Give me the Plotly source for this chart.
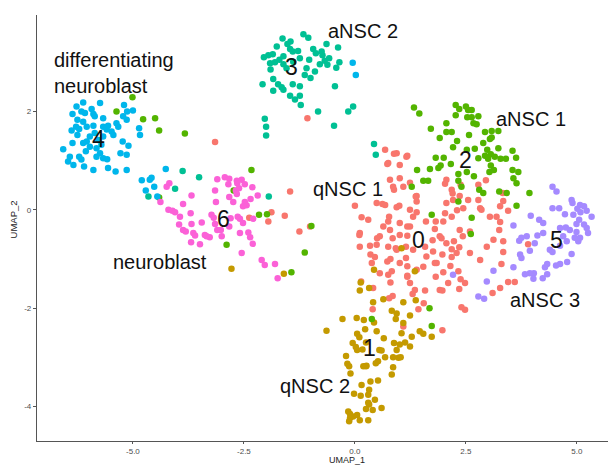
import plotly.graph_objects as go

# ---------------- data (UMAP coordinates per cluster) ----------------
c0 = [(1.31,-0.14),(1.39,-0.05),(1.60,-0.24),(1.24,-0.34),(1.01,-0.51),(0.56,-0.54),(0.49,-0.71),(0.75,-0.75),
      (0.34,-0.73),(0.35,-0.91),(0.73,-1.05),(1.01,-1.08),(1.15,-0.98),(1.39,-1.22),(1.80,-1.08),(1.99,-1.27),
      (2.10,-1.49),(2.29,-0.88),(2.59,-0.88),(2.82,-1.02),(2.97,-0.75),(3.12,-0.61),(3.25,-0.41),(3.19,-0.14),
      (3.04,-0.14),(2.82,0.03),(2.78,0.20),(2.55,0.20),(2.36,0.28),(2.21,0.20),(2.44,0.03),(2.18,-0.14),
      (1.99,-0.24),(1.91,-0.54),(2.36,-0.41),(2.06,-0.68),(1.58,-0.75),(1.31,-0.81),(1.61,-0.95),(0.94,-0.81),
      (0.11,-0.47),(0.11,-0.75),(0.38,-1.08),(0.56,-1.29),(0.75,-1.32),(0.14,-1.46),(1.24,-1.49),(1.35,-1.63),
      (1.91,-1.63),(2.35,-1.61),(2.48,-1.49),(0.68,1.22),(0.94,1.15),(0.75,0.95),(1.01,0.91),(1.16,1.08),
      (0.79,0.61),(1.01,0.64),(0.86,0.47),(1.09,0.47),(1.39,0.28),(1.39,0.17),(0.00,0.08),(0.49,0.14),
      (0.68,0.10),(0.94,0.05),(0.15,-0.15),(0.30,-0.20),(0.75,-0.24),(0.64,-0.34),(0.79,-0.41),(2.06,0.14),
      (2.18,0.41),(2.38,0.51),(2.06,0.61),(2.78,0.51),(2.95,0.60),(2.85,0.00),(3.27,0.07),
      (0.10,-0.51),(0.50,-0.58),(0.85,-0.58),(1.18,-0.53),(0.92,-0.78),(1.15,-0.75),(0.45,-0.96),(0.80,-1.00),
      (1.18,-1.15),(1.54,-1.16),(0.83,-1.25),(1.18,-1.34),(0.80,-1.48),(1.00,0.08),(1.24,0.00),(1.82,-0.24),
      (2.03,-0.07),(2.03,0.53),(2.20,0.33),(2.30,-0.01),(0.77,-0.14),(1.01,-0.27),(1.18,-0.34),(1.80,-0.39),
      (1.75,-0.62),(1.95,-0.58),(2.23,-0.64),(2.43,-0.54),(2.59,-0.44),(2.35,-0.76),(2.18,-0.80),(1.76,-0.85),
      (1.97,-0.91),(2.18,-0.96),(1.84,-1.08),(2.15,-1.14),(1.82,-1.36),(2.33,-1.25),(2.38,-1.41),(0.62,0.12),
      (0.88,0.41),(1.24,0.55),(1.37,0.27),(0.73,0.93),(0.88,1.14),(1.18,1.10),
      (3.33,0.34),(3.34,0.18),(3.45,-0.02),(3.27,-0.25),(3.34,-0.64),(3.90,-0.70),(3.34,-0.86),(3.30,-1.10),
      (3.60,-1.47),(3.45,-1.47),(3.27,-1.59),(3.10,-1.69),
      (1.18,-1.36),(0.41,-1.59),(0.85,-1.75),(0.77,-1.80),(1.30,-1.71),(1.58,-1.64),(1.97,-1.64),(1.55,-1.90),
      (1.43,-2.02),(0.40,-2.02),(1.09,-2.37),(1.97,-2.45),(2.40,-1.98),(2.48,-2.03),
      (-3.15,1.38),(-1.07,1.86),(-1.46,0.37),(-1.88,-0.05),(-1.95,-0.24),(-1.58,-0.12),(-2.38,-0.16),
      (-1.25,-0.44),(-1.01,-0.34)]

c1 = [(-1.60,-1.30),(0.13,-1.48),(0.11,-1.64),(0.32,-1.59),(0.43,-1.22),(1.35,-1.25),(0.64,-1.82),(0.41,-1.88),
      (1.09,-1.88),(1.37,-1.84),(0.83,-2.05),(0.94,-2.11),(1.24,-2.15),(0.92,-2.22),(1.09,-2.30),(0.20,-2.24),
      (0.43,-2.29),(0.04,-2.20),(-0.28,-2.22),(-0.64,-2.46),(0.23,-2.43),(0.49,-2.47),(0.05,-2.52),(0.10,-2.59),
      (-0.05,-2.71),(0.05,-2.85),(0.25,-2.70),(0.55,-2.85),(0.60,-2.86),(0.65,-2.61),(0.88,-2.71),(1.01,-2.74),
      (1.05,-2.51),(1.28,-2.58),(1.24,-2.78),(1.46,-2.47),(1.54,-2.52),(1.73,-2.58),(1.13,-2.70),(0.68,-3.00),
      (0.52,-3.08),(0.98,-3.01),(1.03,-3.00),(0.86,-3.20),(0.83,-3.35),(0.47,-3.12),(0.25,-3.18),(0.19,-3.18),
      (-0.20,-2.97),(-0.17,-3.13),(-0.13,-3.18),(-0.10,-3.33),(0.15,-3.56),(0.35,-3.49),(0.52,-3.47),(-0.02,-3.74),
      (0.13,-3.78),(0.30,-3.76),(0.32,-3.66),(0.45,-3.86),(0.30,-3.92),(0.32,-3.96),(0.25,-4.05),(0.40,-4.07),
      (0.60,-4.03),(-0.15,-4.10),(-0.11,-4.15),(-0.04,-4.20),(0.05,-4.17),(-0.13,-4.30),(-0.11,-4.23),(0.11,-4.28),
      (0.30,-4.28),(0.17,-2.84),(0.02,-2.79),(0.26,-3.17),(0.86,-3.00),(0.94,-2.85),
      (1.05,-0.78),(-2.78,-1.20)]

c2 = [(1.33,2.08),(1.45,1.96),(2.27,2.13),(2.35,2.05),(2.50,2.10),(2.55,2.03),(2.63,2.03),(2.27,1.92),
      (2.53,1.88),(2.63,1.88),(2.78,1.90),(2.67,1.76),(2.74,1.74),(2.06,1.76),(1.71,1.65),(2.06,1.58),
      (2.18,1.58),(1.91,1.46),(2.30,1.40),(2.57,1.52),(2.93,1.58),(3.08,1.60),(3.23,1.60),(3.04,1.44),
      (2.89,1.36),(3.08,1.47),(2.21,1.27),(2.52,1.22),(2.70,1.24),(2.98,1.22),(3.06,1.13),(3.23,1.25),
      (3.55,1.20),(1.82,1.06),(2.00,1.06),(2.16,0.93),(1.93,0.90),(1.88,0.85),(1.69,0.83),(1.40,0.81),
      (2.78,1.05),(2.93,1.10),(3.00,1.04),(3.15,1.08),(3.28,1.04),(3.40,1.04),(3.63,1.06),(3.06,0.90),
      (3.13,0.81),(3.03,0.77),(2.52,0.77),(2.33,0.73),(2.68,0.68),(3.55,0.81),(3.68,0.77),(3.57,0.64),
      (3.64,0.54),(2.33,0.59),(2.40,0.47),(1.54,0.59),(1.65,0.59),(1.28,0.47),(2.80,0.41),(2.89,0.34),
      (3.25,0.37),(3.42,0.34),(3.93,0.34),(2.33,0.17),
      (-5.01,2.29),(-5.37,2.00),(-4.77,1.84),(-4.50,1.86),(-4.41,1.61),(-3.83,1.55),(-2.33,0.81),(-4.41,0.25),
      (-2.73,0.39),(-2.16,-0.10),(-1.98,-0.09),(-2.89,-0.71),(-1.13,-0.87),(-1.43,-1.27),(3.64,0.08),
      (2.63,-0.16),(2.61,-0.49),(1.73,-0.10),(-0.98,-0.33),(1.68,-2.00),(0.38,-2.22),(1.73,-2.36)]

c3 = [(-1.63,3.48),(-1.45,3.42),(-1.16,3.57),(-1.05,3.50),(-1.52,3.37),(-1.76,3.32),(-1.85,3.16),(-2.05,3.10),
      (-1.95,3.14),(-1.61,3.12),(-1.46,3.27),(-1.40,3.22),(-1.28,3.23),(-0.94,3.27),(-0.88,3.18),(-0.64,3.37),
      (-0.38,3.30),(-0.73,3.14),(-0.58,3.08),(-0.68,3.03),(-1.03,3.05),(-1.24,3.08),(-1.80,3.00),(-1.90,2.85),
      (-1.61,2.96),(-1.09,2.88),(-0.90,2.81),(-0.79,2.96),(-0.62,2.95),(-0.35,3.00),(-0.42,2.89),(-1.00,2.68),
      (-1.84,2.66),(-2.08,2.55),(-1.73,2.55),(-1.65,2.49),(-1.84,2.42),(-1.61,2.44),(-1.40,2.55),(-1.24,2.51),
      (-1.46,2.32),(-1.24,2.32),(-1.35,2.24),(-1.22,2.13),(-0.45,2.51),(-0.83,2.00),(-0.15,2.00),(-0.04,2.10),
      (-2.03,1.85),(-2.00,1.69),(-2.00,1.51),(-0.47,1.71),(-1.70,3.05),(-1.54,2.88),(-1.91,2.98),(-1.39,3.01),
      (-0.75,3.22),(-1.13,2.74),
      (0.43,1.34),(0.47,1.12),(-3.88,0.79),(-4.05,0.43),(-4.65,0.27),(-3.51,0.66),(-1.94,0.27)]

c4 = [(-6.12,2.18),(-6.27,2.10),(-6.36,1.95),(-6.16,2.00),(-6.08,1.97),(-5.93,2.05),(-5.89,1.95),(-5.74,2.17),
      (-5.86,1.90),(-5.67,1.86),(-6.25,1.83),(-6.12,1.79),(-6.28,1.69),(-6.21,1.64),(-6.38,1.61),(-6.04,1.69),
      (-5.89,1.71),(-5.67,1.69),(-5.56,1.71),(-5.48,1.59),(-5.37,1.76),(-5.33,1.69),(-5.22,1.90),(-5.14,1.83),
      (-5.20,2.13),(-5.00,2.02),(-5.13,2.00),(-5.97,1.49),(-5.86,1.56),(-6.04,1.39),(-6.12,1.36),(-5.67,1.49),
      (-5.59,1.63),(-5.44,1.52),(-5.23,1.39),(-5.10,1.30),(-6.57,1.23),(-6.36,1.36),(-6.06,1.19),(-5.82,1.25),
      (-5.74,1.15),(-5.67,1.05),(-5.58,1.03),(-6.21,1.08),(-6.16,1.02),(-6.42,1.08),(-6.46,0.98),(-6.34,0.91),
      (-6.10,0.88),(-5.89,0.81),(-5.82,1.08),(-5.56,0.85),(-5.39,0.78),(-5.14,0.81),(-5.14,1.12),(-5.28,1.15),
      (-5.71,1.32),(-5.97,1.28),(-5.78,1.42),(-6.25,1.52),(-4.86,1.66),(-4.84,1.52),
      (-4.26,0.83),(-4.80,0.60),(-4.62,0.61),(-4.71,0.39),(-4.52,0.47),(-4.45,0.27),(-4.58,0.65),
      (-0.05,2.99),(0.02,2.74)]

c5 = [(4.45,0.47),(4.54,0.37),(4.88,0.20),(4.90,0.14),(5.07,0.10),(5.16,0.07),(5.22,-0.02),(5.33,-0.14),
      (5.01,0.02),(5.08,-0.05),(4.92,-0.10),(4.45,0.03),(4.60,0.03),(4.73,-0.09),(3.96,-0.12),(4.15,-0.20),
      (4.24,-0.27),(3.57,-0.32),(4.62,-0.37),(4.75,-0.36),(4.84,-0.41),(4.99,-0.29),(5.05,-0.20),(5.16,-0.30),
      (5.22,-0.37),(5.25,-0.47),(4.99,-0.45),(5.07,-0.57),(4.95,-0.57),(5.03,-0.64),(4.69,-0.54),(4.77,-0.64),
      (4.24,-0.47),(4.11,-0.52),(4.05,-0.68),(3.87,-0.54),(3.75,-0.57),(3.70,-0.63),(3.94,-0.83),(3.72,-0.91),
      (3.75,-0.98),(4.39,-0.81),(4.45,-0.86),(4.62,-0.73),(4.88,-0.90),(4.78,-1.06),(4.62,-1.10),(4.53,-1.13),
      (4.33,-1.10),(4.28,-1.17),(4.33,-1.31),(4.03,-1.29),(3.94,-1.29),(3.83,-1.31),(4.02,-1.40),(4.23,-1.39),
      (3.57,-1.17),(3.12,-1.24),(2.97,-1.46),(2.78,-1.76),(2.91,-1.81),(2.21,-1.32)]

c6 = [(-4.18,0.54),(-4.24,0.47),(-4.38,0.16),(-4.20,0.00),(-4.11,-0.02),(-4.05,-0.05),(-3.94,-0.14),(-3.87,0.12),
      (-3.68,0.29),(-3.70,-0.07),(-3.96,-0.30),(-3.87,-0.41),(-3.81,-0.44),(-3.68,-0.29),(-3.64,-0.47),(-3.60,-0.52),
      (-3.45,-0.26),(-3.38,-0.51),(-3.27,-0.56),(-3.34,-0.54),(-3.69,-0.66),(-3.49,-0.70),(-3.10,0.62),(-2.93,0.66),
      (-2.83,0.63),(-2.66,0.59),(-2.55,0.61),(-2.48,0.52),(-2.31,0.46),(-2.65,0.54),(-2.85,0.52),(-3.15,0.39),
      (-2.68,0.39),(-2.61,0.44),(-2.66,0.32),(-2.83,0.26),(-3.13,0.16),(-3.23,-0.10),(-3.15,-0.29),(-3.10,-0.41),
      (-3.18,-0.16),(-3.00,-0.54),(-2.74,0.16),(-2.48,0.16),(-2.44,0.09),(-2.52,0.07),(-2.35,0.22),(-2.19,0.29),
      (-2.64,-0.14),(-2.59,-0.18),(-2.52,-0.27),(-2.80,-0.17),(-2.83,-0.34),(-2.59,-0.47),(-2.40,-0.46),(-2.36,-0.56),
      (-2.30,-0.69),(-2.55,-0.88),(-2.10,-1.02),(-2.03,-1.12),(-1.80,-1.10),(-1.74,-1.39),(-3.02,-0.41),(-2.29,-0.18)]

clusters = ["0", "1", "2", "3", "4", "5", "6"]
cluster_points = [c0, c1, c2, c3, c4, c5, c6]
colors = ["#F8766D", "#C49A00", "#53B400", "#00C094", "#00B6EB", "#A58AFF", "#FB61D7"]

# cluster number labels (positions in UMAP units)
num_x = [1.44, 0.32, 2.48, -1.42, -5.77, 4.53, -2.97]
num_y = [-0.61, -2.80, 1.02, 2.91, 1.44, -0.61, -0.18]

# cell type labels
type_text = ["aNSC 2", "aNSC 1", "qNSC 1", "neuroblast", "aNSC 3", "qNSC 2"]
type_x = [0.19, 3.96, -0.16, -4.39, 4.28, -0.89]
type_y = [3.64, 1.85, 0.43, -1.06, -1.83, -3.58]
diff_text = "differentiating<br>neuroblast"
diff_x, diff_y = -6.83, 2.78

x_ticks = [-5.0, -2.5, 0.0, 2.5, 5.0]
x_ticklabels = ["-5.0", "-2.5", "0.0", "2.5", "5.0"]
y_ticks = [-4, -2, 0, 2]
y_ticklabels = ["-4", "-2", "0", "2"]

# ---------------- figure ----------------
fig = go.Figure()
for name, pts, col in zip(clusters, cluster_points, colors):
    fig.add_trace(go.Scatter(
        x=[p[0] for p in pts], y=[p[1] for p in pts], mode="markers", name=name,
        marker=dict(color=col, size=6.5, line=dict(width=0)), showlegend=False))

FONT = "Liberation Sans, Arial, sans-serif"
annotations = []
for t, x, y in zip(clusters, num_x, num_y):
    annotations.append(dict(x=x, y=y, text=t, showarrow=False, xanchor="center", yanchor="middle",
                            font=dict(family=FONT, size=23, color="#111111")))
for t, x, y in zip(type_text, type_x, type_y):
    annotations.append(dict(x=x, y=y, text=t, showarrow=False, xanchor="center", yanchor="middle",
                            font=dict(family=FONT, size=20, color="#111111")))
annotations.append(dict(x=diff_x, y=diff_y, text=diff_text, showarrow=False, xanchor="left",
                        yanchor="middle", align="left",
                        font=dict(family=FONT, size=20, color="#111111")))
# axis titles
annotations.append(dict(x=0.535, y=0, xref="paper", yref="paper", yshift=-19, text="UMAP_1",
                        showarrow=False, xanchor="center", yanchor="middle",
                        font=dict(family=FONT, size=9, color="#222222")))
annotations.append(dict(x=0, y=0.52, xref="paper", yref="paper", xshift=-24, text="UMAP_2",
                        textangle=-90, showarrow=False, xanchor="center", yanchor="middle",
                        font=dict(family=FONT, size=9.5, color="#222222")))

# the page body has an 8px default margin, so the figure is sized/offset to compensate
fig.update_layout(
    width=608, height=457,
    margin=dict(l=29, r=0, t=7, b=24, autoexpand=False),
    paper_bgcolor="white", plot_bgcolor="white",
    font=dict(family=FONT),
    showlegend=False,
    annotations=annotations,
)

fig.update_xaxes(range=[-7.16, 5.88], tickvals=x_ticks, ticktext=x_ticklabels, automargin=False,
                 showgrid=False, zeroline=False, showline=True, linecolor="#555555", linewidth=1.2,
                 ticks="outside", ticklen=2, tickcolor="#555555",
                 tickfont=dict(family=FONT, size=8, color="#4D4D4D"))
fig.update_yaxes(range=[-4.70, 3.96], tickvals=y_ticks, ticktext=y_ticklabels, automargin=False,
                 showgrid=False, zeroline=False, showline=True, linecolor="#555555", linewidth=1.2,
                 ticks="outside", ticklen=3, tickcolor="#555555",
                 tickfont=dict(family=FONT, size=8, color="#4D4D4D"))

fig.write_html("out.html")
